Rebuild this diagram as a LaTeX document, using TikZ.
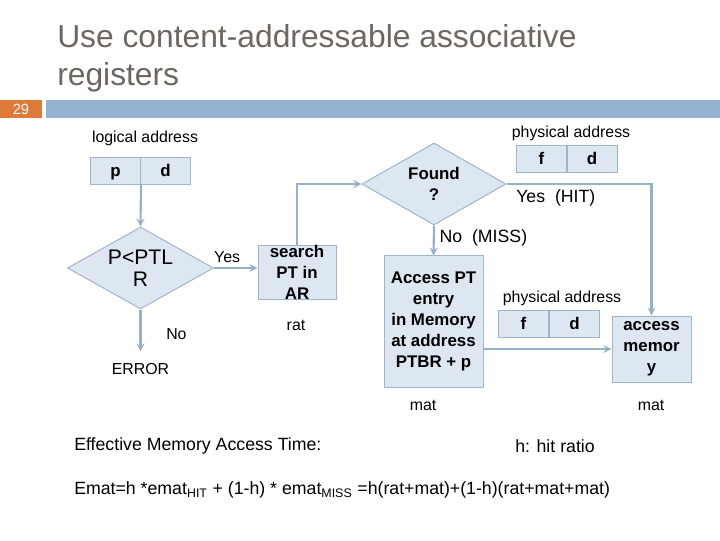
\documentclass[tikz,border=0pt]{standalone}
\usepackage{fontspec}
\setmainfont{Liberation Sans}
\usetikzlibrary{arrows,shapes.geometric}

\definecolor{boxfill}{RGB}{221,231,242}
\definecolor{boxline}{RGB}{160,180,202}
\definecolor{flowblue}{RGB}{150,176,204}
\definecolor{titlegray}{RGB}{110,102,97}
\definecolor{slideorange}{RGB}{221,122,58}
\definecolor{slideblue}{RGB}{148,179,210}

\begin{document}
\begin{tikzpicture}[x=0.025cm,y=-0.025cm,>=stealth,auto,
  txt/.style={font=\fontsize{11.3}{13}\selectfont},
  big/.style={font=\fontsize{12.6}{15}\selectfont},
  cell/.style={draw=boxline,fill=boxfill,line width=0.7pt,minimum width=1.25cm,minimum height=0.675cm,inner sep=0pt,text height=8.5pt,text depth=0pt,font=\bfseries\fontsize{12}{15}\selectfont},
  box/.style={draw=boxline,fill=boxfill,line width=0.7pt,inner sep=0pt,align=center,font=\bfseries\fontsize{12}{15}\selectfont},
  test/.style={diamond,aspect=1.78,draw=boxline,fill=boxfill,line width=0.7pt,inner sep=0pt,align=center},
  link/.style={draw=flowblue,line width=1.5pt}]
  \useasboundingbox (0,0) rectangle (720,540);

  % slide header
  \node[anchor=west,text=titlegray,align=left,inner sep=0pt,font=\fontsize{22.6}{27}\selectfont] (title) at (57,58.5) {Use content-addressable associative\\registers};
  \fill[slideorange] (0,100) rectangle (42,118);
  \fill[slideblue] (46,100) rectangle (720,118);
  \node[text=white,font=\fontsize{10.5}{11}\selectfont] (num) at (21,109) {29};

  % left part
  \node[txt] (logaddr) at (145,138) {logical address};
  \node[cell] (p) at (115.5,170.5) {p};
  \node[cell] (d) at (165.5,170.5) {d};
  \node[test,minimum width=3.65cm,minimum height=2.05cm,font=\fontsize{15}{15.6}\selectfont] (chk) at (140.5,268) {P<PTL\\R};
  \node[box,minimum width=1.95cm,minimum height=1.275cm] (srch) at (297,272.5) {search\\PT in\\AR};
  \node[txt] (rat) at (296,325) {rat};
  \node[txt] (err) at (140.5,369) {ERROR};

  % right part
  \node[test,minimum width=3.6cm,minimum height=2.05cm,font=\bfseries\fontsize{12}{15}\selectfont] (found) at (434,184) {Found\\?};
  \node[txt] (phys1) at (571,133) {physical address};
  \node[cell] (f1) at (541.5,158.5) {f};
  \node[cell] (d1) at (592,158.5) {d};
  \node[box,minimum width=2.475cm,minimum height=3.275cm] (pt) at (433.5,321.5) {Access PT\\entry\\in Memory\\at address\\PTBR + p};
  \node[txt] (phys2) at (562,298) {physical address};
  \node[cell] (f2) at (523.5,323.5) {f};
  \node[cell] (d2) at (574.5,323.5) {d};
  \node[box,minimum width=1.975cm,minimum height=1.65cm] (mem) at (651.5,349) {access\\memor\\y};
  \node[txt] (mat1) at (423,405) {mat};
  \node[txt] (mat2) at (651,405) {mat};

  % formula
  \node[big,anchor=west,inner sep=0pt] (eff) at (74,446) {Effective Memory Access Time:};
  \node[big] (hit) at (555,446) {h: hit ratio};
  \node[big,anchor=west,inner sep=0pt] (emat) at (74,490) {Emat=h *emat\textsubscript{HIT} + (1-h) * emat\textsubscript{MISS} =h(rat+mat)+(1-h)(rat+mat+mat)};

  \draw[->,link] (p.south east) -- (chk.north);
  \draw[->,link] (chk.east) -- node[txt,pos=0.3] {Yes} (chk.east -| srch.west);
  \draw[->,link,shorten >=5pt] (chk.south) -- node[txt,right,xshift=0.5cm] {No} (err.north);
  \draw[->,link] (srch.north) |- (found.west);
  \draw[->,link] (found.east) -| node[big,below,pos=0.17] {Yes\ \ (HIT)} (mem.north);
  \draw[->,link] (found.south) -- node[big,right,pos=0.4] {No\ \ (MISS)} (pt.north);
  \draw[->,link] (pt.east |- mem.west) -- (mem.west);

\end{tikzpicture}
\end{document}
